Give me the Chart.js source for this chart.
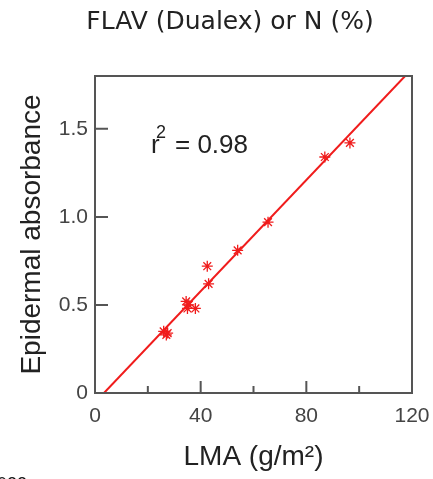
<!DOCTYPE html>
<html>
<head>
<meta charset="utf-8">
<script src="https://cdn.jsdelivr.net/npm/chart.js@4"></script>
<style>html,body{margin:0;padding:0;background:#fff}</style>
</head>
<body>
<canvas id="myChart" width="433" height="479"></canvas>
<script>
// LMA (g/m2) vs epidermal absorbance
var lma = [26, 27, 27.5, 34.5, 35.5, 35, 38, 42.5, 43, 54, 65.5, 87, 96.5];
var absorbance = [0.35, 0.33, 0.34, 0.52, 0.50, 0.48, 0.48, 0.72, 0.62, 0.81, 0.97, 1.34, 1.42];

// regression line end points
var fitX = [3.4, 117.4];
var fitY = [0, 1.8];

var xTickLabels = [0, 40, 80, 120];
var xMinorTicks = [20, 60, 100];
var yTickLabels = [0, 0.5, 1.0, 1.5];

var red = '#f01c1c';
var axisFont = '"Liberation Sans", Arial, sans-serif';

// heading, box round the plot, inward tick marks and the r2 note
var framePlugin = {
    id: 'frame',
    afterDraw: function(chart) {
        var c = chart.ctx, a = chart.chartArea;
        var xs = chart.scales.x, ys = chart.scales.y;
        c.save();
        c.strokeStyle = '#555';
        c.lineWidth = 2;
        c.strokeRect(a.left, a.top, a.right - a.left, a.bottom - a.top);
        c.beginPath();
        xTickLabels.forEach(function(v) {
            var px = xs.getPixelForValue(v);
            c.moveTo(px, a.bottom); c.lineTo(px, a.bottom - 12);
        });
        xMinorTicks.forEach(function(v) {
            var px = xs.getPixelForValue(v);
            c.moveTo(px, a.bottom); c.lineTo(px, a.bottom - 7);
        });
        yTickLabels.forEach(function(v) {
            var py = ys.getPixelForValue(v);
            c.moveTo(a.left, py); c.lineTo(a.left + 13, py);
        });
        c.stroke();

        c.fillStyle = '#222';
        c.textAlign = 'center';
        c.textBaseline = 'middle';
        c.font = '25px "DejaVu Sans", sans-serif';
        c.fillText('FLAV (Dualex) or N (%)', 230, 22);

        var tx = xs.getPixelForValue(21.2), ty = ys.getPixelForValue(1.36);
        c.textBaseline = 'alphabetic';
        c.textAlign = 'left';
        c.font = '26px ' + axisFont;
        c.fillText('r', tx, ty);
        c.fillText('= 0.98', tx + 24, ty);
        c.font = '18px ' + axisFont;
        c.fillText('2', tx + 5, ty - 15);

        // cut-off caption at the bottom edge of the figure
        c.fillStyle = '#111';
        c.font = '18px ' + axisFont;
        c.fillText('022', -3, 490);
        c.restore();
    }
};

var ctx = document.getElementById('myChart').getContext('2d');
var chart = new Chart(ctx, {
    type: 'scatter',
    data: {
        datasets: [{
            label: 'data',
            data: lma.map(function(x, i) { return {x: x, y: absorbance[i]}; }),
            pointStyle: 'star',
            pointRadius: 5.5,
            borderColor: red,
            backgroundColor: red,
            borderWidth: 1.3
        }, {
            label: 'fit',
            data: fitX.map(function(x, i) { return {x: x, y: fitY[i]}; }),
            showLine: true,
            pointRadius: 0,
            borderColor: red,
            borderWidth: 2
        }]
    },
    options: {
        responsive: false,
        animation: false,
        layout: {padding: {left: 0, right: 21, top: 76, bottom: 0}},
        plugins: {
            legend: {display: false},
            tooltip: {enabled: false},
            title: {display: false}
        },
        scales: {
            x: {
                type: 'linear',
                min: 0,
                max: 120,
                grid: {display: false, drawTicks: false},
                border: {display: false},
                afterBuildTicks: function(s) { s.ticks = xTickLabels.map(function(v) { return {value: v}; }); },
                afterFit: function(s) { s.height = 86; s.paddingLeft = 0; s.paddingRight = 0; },
                ticks: {color: '#444', padding: 11, font: {family: axisFont, size: 21}},
                title: {
                    display: true,
                    text: 'LMA (g/m²)',
                    color: '#222',
                    font: {family: axisFont, size: 28},
                    padding: {top: 0, bottom: 5}
                }
            },
            y: {
                type: 'linear',
                min: 0,
                max: 1.8,
                grid: {display: false, drawTicks: false},
                border: {display: false},
                afterBuildTicks: function(s) { s.ticks = yTickLabels.map(function(v) { return {value: v}; }); },
                afterFit: function(s) { s.width = 95; s.paddingTop = 0; s.paddingBottom = 0; },
                ticks: {
                    color: '#444', padding: 7, font: {family: axisFont, size: 21},
                    callback: function(v) { return v === 0 ? '0' : v.toFixed(1); }
                },
                title: {
                    display: true,
                    text: 'Epidermal absorbance',
                    color: '#222',
                    font: {family: axisFont, size: 28},
                    padding: {top: 15, bottom: 0}
                }
            }
        }
    },
    plugins: [framePlugin]
});
</script>
</body>
</html>
